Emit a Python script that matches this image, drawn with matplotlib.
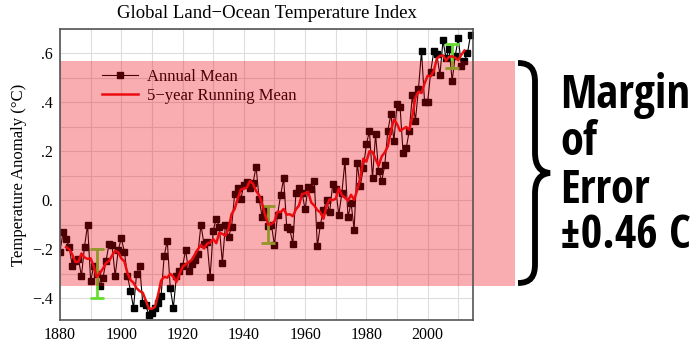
import numpy as np
import matplotlib
matplotlib.use("Agg")
import matplotlib.pyplot as plt
from matplotlib import font_manager
from matplotlib.path import Path
from matplotlib.patches import PathPatch, Rectangle
from matplotlib.transforms import blended_transform_factory

# annual global land-ocean temperature anomaly (deg C), 1880-2014
years = np.arange(1880, 2015)
anomaly = [
    -0.21, -0.13, -0.16, -0.19, -0.27, -0.25, -0.24, -0.31, -0.19, -0.10,
    -0.33, -0.27, -0.30, -0.35, -0.32, -0.25, -0.18, -0.185, -0.31, -0.205,
    -0.155, -0.21, -0.31, -0.37, -0.44, -0.30, -0.27, -0.42, -0.43, -0.47,
    -0.46, -0.44, -0.42, -0.39, -0.23, -0.165, -0.36, -0.44, -0.31, -0.29,
    -0.27, -0.205, -0.29, -0.26, -0.245, -0.22, -0.10, -0.18, -0.17, -0.315,
    -0.125, -0.075, -0.11, -0.255, -0.10, -0.15, -0.11, 0.025, 0.05, 0.003,
    0.063, 0.075, 0.048, 0.07, 0.137, 0.003, -0.07, -0.04, -0.105, -0.10,
    -0.185, -0.06, 0.02, 0.089, -0.109, -0.119, -0.178, 0.03, 0.048, 0.03,
    -0.038, 0.055, 0.045, 0.079, -0.189, -0.10, -0.04, 0.0, -0.05, 0.065,
    0.045, -0.06, 0.03, 0.16, -0.07, -0.01, -0.12, 0.15, 0.057, 0.13,
    0.228, 0.283, 0.089, 0.27, 0.119, 0.079, 0.143, 0.284, 0.351, 0.242,
    0.392, 0.38, 0.191, 0.212, 0.284, 0.429, 0.325, 0.455, 0.61, 0.40,
    0.40, 0.526, 0.608, 0.597, 0.512, 0.653, 0.58, 0.619, 0.489, 0.59,
    0.663, 0.549, 0.571, 0.601, 0.676,
]

# uncertainty bars
err_years = [1892, 1948, 2008]
err_center = [-0.30, -0.10, 0.59]
err_half = [0.10, 0.075, 0.05]

# margin of error band
band_center = 0.11
band_half = 0.46

ytick_vals = [-0.4, -0.2, 0.0, 0.2, 0.4, 0.6]
ytick_labels = ['\u2212.4', '\u2212.2', '0.', '.2', '.4', '.6']
xtick_vals = [1880, 1900, 1920, 1940, 1960, 1980, 2000]

side_lines = ['Margin', 'of', 'Error', '\u00b10.46 C']

plt.rcParams['font.family'] = ['Liberation Serif', 'DejaVu Serif']

W, H = 699, 345
fig = plt.figure(figsize=(W / 100, H / 100), dpi=100)
fig.patch.set_facecolor('white')
ax = fig.add_axes([60 / W, 25 / H, 413 / W, 291 / H])

anom = np.array(anomaly)
running = np.convolve(anom, np.ones(5) / 5, mode='valid')

ax.plot(years, anom, color='black', lw=0.8, marker='s', ms=3.8,
        mfc='black', mec='black', zorder=2, label='Annual Mean')
ax.plot(years[2:-2], running, color='#ee1111', lw=1.8, zorder=3,
        label='5\u2212year Running Mean')
ax.errorbar(err_years, err_center, yerr=err_half, fmt='none',
            ecolor='#66dd33', elinewidth=2, capsize=5, capthick=2, zorder=2.5)

ax.set_xlim(1880, 2014.8)
ax.set_ylim(-0.49, 0.70)
ax.set_xticks(xtick_vals)
ax.set_xticks(np.arange(1890, 2015, 10), minor=True)
ax.set_yticks(ytick_vals)
ax.set_yticklabels(ytick_labels)
ax.set_yticks(np.arange(-0.4, 0.71, 0.1), minor=True)
ax.tick_params(which='both', length=0, labelsize=11.5, pad=5)
ax.grid(which='both', color='#dddddd', lw=0.8, zorder=0)
ax.set_axisbelow(True)
for sp in ax.spines.values():
    sp.set_color('#555555')
    sp.set_linewidth(1.2)
    sp.set_zorder(5)

ax.set_title('Global Land\u2212Ocean Temperature Index', fontsize=13.5, pad=8)
ax.set_ylabel('Temperature Anomaly (\u00b0C)', fontsize=12, labelpad=4)

leg = ax.legend(loc='upper left', bbox_to_anchor=(0.085, 0.885), frameon=False,
                fontsize=12, handlelength=2.2, handletextpad=0.5,
                labelspacing=0.15, numpoints=1, borderaxespad=0)
leg.set_zorder(3.5)

# translucent band spanning the plot and out to the brace
trans = blended_transform_factory(fig.transFigure, ax.transData)
band = Rectangle((60 / W, band_center - band_half), (515 - 60) / W,
                 2 * band_half, transform=trans, facecolor=(0.93, 0.0, 0.05),
                 alpha=0.32, lw=0, clip_on=False, zorder=4)
ax.add_patch(band)

# curly brace, in pixel units with y measured from the top
def fp(x, y):
    return (x / W, 1 - y / H)

verts = [fp(518, 63), fp(531, 63), fp(535, 70), fp(535, 82),
         fp(535, 152),
         fp(535, 166), fp(540, 172), fp(550, 173),
         fp(540, 174), fp(535, 180), fp(535, 194),
         fp(535, 264),
         fp(535, 276), fp(531, 283), fp(518, 283)]
codes = [Path.MOVETO, Path.CURVE4, Path.CURVE4, Path.CURVE4,
         Path.LINETO,
         Path.CURVE4, Path.CURVE4, Path.CURVE4,
         Path.CURVE4, Path.CURVE4, Path.CURVE4,
         Path.LINETO,
         Path.CURVE4, Path.CURVE4, Path.CURVE4]
fig.add_artist(PathPatch(Path(verts, codes), transform=fig.transFigure,
                         fill=False, lw=4.2, color='black', capstyle='butt'))

# narrowest bold sans that is installed
have = {f.name for f in font_manager.fontManager.ttflist}
side_font = 'Liberation Sans'
for cand in ['Open Sans Condensed', 'Roboto Condensed', 'Liberation Sans Narrow',
             'Lato', 'Liberation Sans']:
    if cand in have:
        side_font = cand
        break

side_texts = []
for txt, base in zip(side_lines, [108, 155, 203, 248]):
    t = fig.text(560 / W, 1 - base / H, txt, family=[side_font, 'DejaVu Sans'],
                 fontweight='bold', fontsize=30, ha='left', va='baseline',
                 color='black')
    side_texts.append(t)

# size the block so the widest line spans about 130 px
renderer = fig.canvas.get_renderer()
widest = max(t.get_window_extent(renderer).width for t in side_texts)
for t in side_texts:
    t.set_fontsize(30 * 131 / widest)

fig.savefig('out.png', dpi=100)
